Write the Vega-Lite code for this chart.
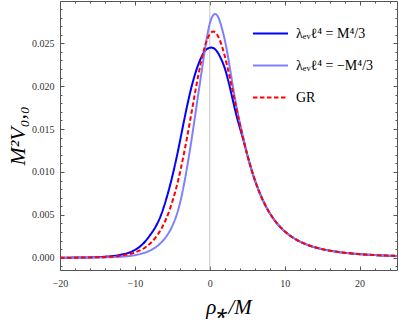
{
  "$schema": "https://vega.github.io/schema/vega-lite/v6.json",
  "width": 337,
  "height": 269,
  "autosize": {"type": "none"},
  "padding": {"left": 60, "top": 1, "right": 2, "bottom": 53},
  "background": "white",
  "config": {
    "view": {"stroke": "#555", "strokeWidth": 1},
    "axis": {
      "labelFont": "Liberation Serif",
      "labelFontSize": 10,
      "labelColor": "#333",
      "titleFont": "Liberation Serif",
      "titleFontWeight": "normal",
      "titleFontStyle": "italic",
      "titleColor": "#000",
      "domain": false,
      "grid": false,
      "tickColor": "#555",
      "tickWidth": 1,
      "labelFlush": false,
      "labelOverlap": false
    }
  },
  "datasets": {
    "curves": [
      {"s": "pos", "x": -20, "y": 0.000006},
      {"s": "pos", "x": -18, "y": 0.000017},
      {"s": "pos", "x": -16, "y": 0.000045},
      {"s": "pos", "x": -14, "y": 0.00012},
      {"s": "pos", "x": -12, "y": 0.00033},
      {"s": "pos", "x": -10, "y": 0.0009},
      {"s": "pos", "x": -9, "y": 0.00155},
      {"s": "pos", "x": -8, "y": 0.0026},
      {"s": "pos", "x": -7, "y": 0.004},
      {"s": "pos", "x": -6.5, "y": 0.005},
      {"s": "pos", "x": -6, "y": 0.0063},
      {"s": "pos", "x": -5.5, "y": 0.0078},
      {"s": "pos", "x": -5, "y": 0.0095},
      {"s": "pos", "x": -4.5, "y": 0.0114},
      {"s": "pos", "x": -4, "y": 0.0135},
      {"s": "pos", "x": -3.5, "y": 0.0157},
      {"s": "pos", "x": -3, "y": 0.0178},
      {"s": "pos", "x": -2.5, "y": 0.0197},
      {"s": "pos", "x": -2.0, "y": 0.0213},
      {"s": "pos", "x": -1.5, "y": 0.0226},
      {"s": "pos", "x": -1.0, "y": 0.0236},
      {"s": "pos", "x": -0.5, "y": 0.02425},
      {"s": "pos", "x": 0.19, "y": 0.0245},
      {"s": "pos", "x": 0.6, "y": 0.02438},
      {"s": "pos", "x": 1.0, "y": 0.024},
      {"s": "pos", "x": 1.5, "y": 0.0232},
      {"s": "pos", "x": 2.0, "y": 0.0221},
      {"s": "pos", "x": 2.45, "y": 0.0207},
      {"s": "pos", "x": 3.07, "y": 0.0184},
      {"s": "pos", "x": 3.5, "y": 0.0168},
      {"s": "pos", "x": 4.0, "y": 0.0152},
      {"s": "pos", "x": 4.5, "y": 0.0137},
      {"s": "pos", "x": 4.946, "y": 0.0122},
      {"s": "pos", "x": 5.811, "y": 0.0096},
      {"s": "pos", "x": 6.619, "y": 0.00765},
      {"s": "pos", "x": 7.386, "y": 0.006173},
      {"s": "pos", "x": 8.833, "y": 0.004165},
      {"s": "pos", "x": 10.197, "y": 0.00293},
      {"s": "pos", "x": 11.506, "y": 0.002134},
      {"s": "pos", "x": 12.773, "y": 0.0016},
      {"s": "pos", "x": 14.008, "y": 0.001229},
      {"s": "pos", "x": 15.219, "y": 0.000965},
      {"s": "pos", "x": 16.999, "y": 0.000692},
      {"s": "pos", "x": 18.744, "y": 0.000514},
      {"s": "pos", "x": 22.159, "y": 0.000305},
      {"s": "pos", "x": 24.394, "y": 0.000225},
      {"s": "pos", "x": 25, "y": 0.00021},

      {"s": "neg", "x": -20, "y": 0.000002},
      {"s": "neg", "x": -18, "y": 0.000005},
      {"s": "neg", "x": -16, "y": 0.000015},
      {"s": "neg", "x": -14, "y": 0.00004},
      {"s": "neg", "x": -12, "y": 0.00011},
      {"s": "neg", "x": -10, "y": 0.0003},
      {"s": "neg", "x": -9, "y": 0.0005},
      {"s": "neg", "x": -8, "y": 0.00083},
      {"s": "neg", "x": -7, "y": 0.00137},
      {"s": "neg", "x": -6, "y": 0.00225},
      {"s": "neg", "x": -5, "y": 0.0037},
      {"s": "neg", "x": -4.5, "y": 0.0048},
      {"s": "neg", "x": -4, "y": 0.0063},
      {"s": "neg", "x": -3.5, "y": 0.0083},
      {"s": "neg", "x": -3, "y": 0.0107},
      {"s": "neg", "x": -2.5, "y": 0.0134},
      {"s": "neg", "x": -2, "y": 0.0163},
      {"s": "neg", "x": -1.5, "y": 0.0193},
      {"s": "neg", "x": -1, "y": 0.0222},
      {"s": "neg", "x": -0.5, "y": 0.0251},
      {"s": "neg", "x": 0, "y": 0.0273},
      {"s": "neg", "x": 0.4, "y": 0.0282},
      {"s": "neg", "x": 0.72, "y": 0.02842},
      {"s": "neg", "x": 1.2, "y": 0.0279},
      {"s": "neg", "x": 1.6, "y": 0.0268},
      {"s": "neg", "x": 2.0, "y": 0.0254},
      {"s": "neg", "x": 2.4, "y": 0.0236},
      {"s": "neg", "x": 2.8, "y": 0.0215},
      {"s": "neg", "x": 3.2, "y": 0.0194},
      {"s": "neg", "x": 3.6, "y": 0.0175},
      {"s": "neg", "x": 4.0, "y": 0.0158},
      {"s": "neg", "x": 4.5, "y": 0.0139},
      {"s": "neg", "x": 4.946, "y": 0.01222},
      {"s": "neg", "x": 5.811, "y": 0.0096},
      {"s": "neg", "x": 6.619, "y": 0.00765},
      {"s": "neg", "x": 7.386, "y": 0.006173},
      {"s": "neg", "x": 8.833, "y": 0.004165},
      {"s": "neg", "x": 10.197, "y": 0.00293},
      {"s": "neg", "x": 11.506, "y": 0.002134},
      {"s": "neg", "x": 12.773, "y": 0.0016},
      {"s": "neg", "x": 14.008, "y": 0.001229},
      {"s": "neg", "x": 15.219, "y": 0.000965},
      {"s": "neg", "x": 16.999, "y": 0.000692},
      {"s": "neg", "x": 18.744, "y": 0.000514},
      {"s": "neg", "x": 22.159, "y": 0.000305},
      {"s": "neg", "x": 24.394, "y": 0.000225},
      {"s": "neg", "x": 25, "y": 0.00021},

      {"s": "GR", "x": -20, "y": 0.0000042},
      {"s": "GR", "x": -18, "y": 0.0000113},
      {"s": "GR", "x": -16, "y": 0.000031},
      {"s": "GR", "x": -14.588, "y": 0.0000624},
      {"s": "GR", "x": -13.201, "y": 0.000125},
      {"s": "GR", "x": -11.814, "y": 0.000249},
      {"s": "GR", "x": -9.978, "y": 0.000619},
      {"s": "GR", "x": -8.587, "y": 0.001225},
      {"s": "GR", "x": -7.19, "y": 0.002402},
      {"s": "GR", "x": -6.37, "y": 0.003533},
      {"s": "GR", "x": -5.328, "y": 0.005662},
      {"s": "GR", "x": -4.491, "y": 0.008091},
      {"s": "GR", "x": -3.891, "y": 0.010284},
      {"s": "GR", "x": -3.031, "y": 0.01404},
      {"s": "GR", "x": -2.405, "y": 0.017075},
      {"s": "GR", "x": -1.909, "y": 0.019509},
      {"s": "GR", "x": -1.494, "y": 0.021441},
      {"s": "GR", "x": -1.136, "y": 0.022952},
      {"s": "GR", "x": -0.819, "y": 0.024113},
      {"s": "GR", "x": -0.533, "y": 0.024979},
      {"s": "GR", "x": -0.273, "y": 0.0256},
      {"s": "GR", "x": -0.032, "y": 0.026015},
      {"s": "GR", "x": 0.192, "y": 0.026259},
      {"s": "GR", "x": 0.469, "y": 0.02637},
      {"s": "GR", "x": 0.788, "y": 0.026228},
      {"s": "GR", "x": 0.967, "y": 0.026031},
      {"s": "GR", "x": 1.303, "y": 0.025449},
      {"s": "GR", "x": 1.614, "y": 0.024691},
      {"s": "GR", "x": 2.31, "y": 0.022408},
      {"s": "GR", "x": 2.925, "y": 0.019992},
      {"s": "GR", "x": 3.483, "y": 0.017699},
      {"s": "GR", "x": 4.0, "y": 0.015625},
      {"s": "GR", "x": 4.946, "y": 0.012193},
      {"s": "GR", "x": 5.811, "y": 0.0096},
      {"s": "GR", "x": 6.619, "y": 0.00765},
      {"s": "GR", "x": 7.386, "y": 0.006173},
      {"s": "GR", "x": 8.833, "y": 0.004165},
      {"s": "GR", "x": 10.197, "y": 0.00293},
      {"s": "GR", "x": 11.506, "y": 0.002134},
      {"s": "GR", "x": 12.773, "y": 0.0016},
      {"s": "GR", "x": 14.008, "y": 0.001229},
      {"s": "GR", "x": 15.219, "y": 0.000965},
      {"s": "GR", "x": 16.999, "y": 0.000692},
      {"s": "GR", "x": 18.744, "y": 0.000514},
      {"s": "GR", "x": 22.159, "y": 0.000305},
      {"s": "GR", "x": 24.394, "y": 0.000225},
      {"s": "GR", "x": 25, "y": 0.00021}
    ],
    "zero": [{"x": 0}]
  },
  "data": {"name": "curves"},
  "resolve": {"axis": {"x": "independent", "y": "independent"}},
  "layer": [
    {
      "data": {"name": "zero"},
      "mark": {"type": "rule", "color": "#c8c8c8", "strokeWidth": 1},
      "encoding": {
        "x": {
          "field": "x", "type": "quantitative",
          "scale": {"domain": [-20, 25], "nice": false, "zero": false},
          "axis": {"orient": "bottom", "values": [-20, -10, 0, 10, 20], "tickSize": -4, "labelPadding": 12, "title": "ρ⁎/M", "titleFontSize": 21, "titlePadding": 8}
        }
      }
    },
    {
      "mark": {"type": "line", "strokeWidth": 2, "interpolate": "monotone"},
      "encoding": {
        "x": {
          "field": "x", "type": "quantitative",
          "scale": {"domain": [-20, 25], "nice": false, "zero": false},
          "axis": {"orient": "bottom", "values": [-20, -18, -16, -14, -12, -10, -8, -6, -4, -2, 0, 2, 4, 6, 8, 10, 12, 14, 16, 18, 20, 22, 24], "tickSize": -2, "labels": false, "title": null}
        },
        "y": {
          "field": "y", "type": "quantitative",
          "scale": {"domain": [-0.00143, 0.02993], "nice": false, "zero": false},
          "axis": {"orient": "left", "values": [0, 0.005, 0.01, 0.015, 0.02, 0.025], "format": ".3f", "tickSize": -4, "labelPadding": 10, "title": "M²V₀,₀", "titleFontSize": 22, "titlePadding": 2}
        },
        "color": {
          "field": "s", "type": "nominal",
          "scale": {"domain": ["pos", "neg", "GR"], "range": ["#0000ff", "#8080ff", "#ff0000"]},
          "legend": {"title": null, "orient": "none", "legendX": 196, "legendY": 18, "symbolType": "M-1.3,0H1.3", "symbolSize": 729, "symbolStrokeWidth": 2, "labelFont": "Liberation Serif", "labelFontSize": 14, "labelColor": "#000", "labelOffset": 11, "rowPadding": 10, "padding": 0, "labelExpr": "datum.value == 'pos' ? 'λₑᵥℓ⁴ = M⁴/3' : datum.value == 'neg' ? 'λₑᵥℓ⁴ = −M⁴/3' : 'GR'"}
        },
        "strokeDash": {
          "field": "s", "type": "nominal",
          "scale": {"domain": ["pos", "neg", "GR"], "range": [[1, 0], [1, 0], [4.5, 2.5]]},
          "legend": {"title": null, "orient": "none", "legendX": 196, "legendY": 18, "symbolType": "M-1.3,0H1.3", "symbolSize": 729, "symbolStrokeWidth": 2, "labelFont": "Liberation Serif", "labelFontSize": 14, "labelColor": "#000", "labelOffset": 11, "rowPadding": 10, "padding": 0, "labelExpr": "datum.value == 'pos' ? 'λₑᵥℓ⁴ = M⁴/3' : datum.value == 'neg' ? 'λₑᵥℓ⁴ = −M⁴/3' : 'GR'"}
        }
      }
    },
    {
      "mark": {"type": "point", "opacity": 0},
      "encoding": {
        "x": {
          "field": "x", "type": "quantitative",
          "scale": {"domain": [-20, 25], "nice": false, "zero": false},
          "axis": {"orient": "top", "values": [-20, -10, 0, 10, 20], "tickSize": -4, "labels": false, "title": null}
        },
        "y": {
          "field": "y", "type": "quantitative",
          "scale": {"domain": [-0.00143, 0.02993], "nice": false, "zero": false},
          "axis": {"orient": "left", "values": [-0.001, 0.001, 0.002, 0.003, 0.004, 0.006, 0.007, 0.008, 0.009, 0.011, 0.012, 0.013, 0.014, 0.016, 0.017, 0.018, 0.019, 0.021, 0.022, 0.023, 0.024, 0.026, 0.027, 0.028, 0.029], "tickSize": -2, "labels": false, "title": null}
        }
      }
    },
    {
      "mark": {"type": "point", "opacity": 0},
      "encoding": {
        "x": {
          "field": "x", "type": "quantitative",
          "scale": {"domain": [-20, 25], "nice": false, "zero": false},
          "axis": {"orient": "top", "values": [-18, -16, -14, -12, -8, -6, -4, -2, 2, 4, 6, 8, 12, 14, 16, 18, 22, 24], "tickSize": -2, "labels": false, "title": null}
        },
        "y": {
          "field": "y", "type": "quantitative",
          "scale": {"domain": [-0.00143, 0.02993], "nice": false, "zero": false},
          "axis": {"orient": "right", "values": [0, 0.005, 0.01, 0.015, 0.02, 0.025], "tickSize": -4, "labels": false, "title": null}
        }
      }
    },
    {
      "mark": {"type": "point", "opacity": 0},
      "encoding": {
        "y": {
          "field": "y", "type": "quantitative",
          "scale": {"domain": [-0.00143, 0.02993], "nice": false, "zero": false},
          "axis": {"orient": "right", "values": [-0.001, 0.001, 0.002, 0.003, 0.004, 0.006, 0.007, 0.008, 0.009, 0.011, 0.012, 0.013, 0.014, 0.016, 0.017, 0.018, 0.019, 0.021, 0.022, 0.023, 0.024, 0.026, 0.027, 0.028, 0.029], "tickSize": -2, "labels": false, "title": null}
        }
      }
    }
  ]
}
